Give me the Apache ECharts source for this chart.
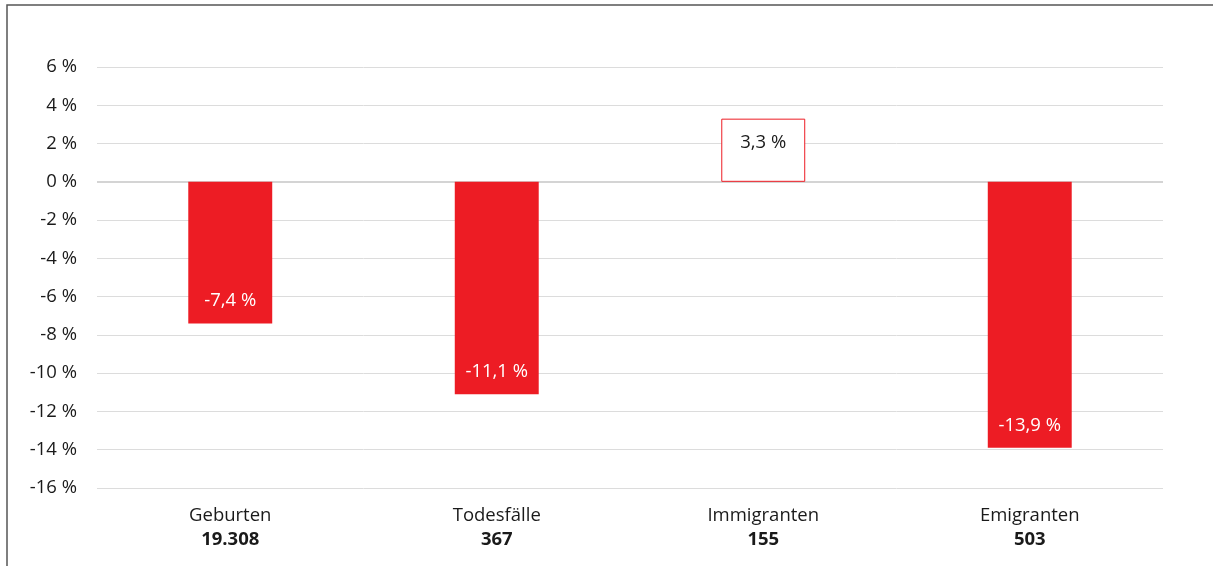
<!DOCTYPE html>
<html><head><meta charset="utf-8">
<script src="https://cdn.jsdelivr.net/npm/echarts@6/dist/echarts.min.js"></script>
<style>html,body{margin:0;padding:0;background:#fff}#c{width:1213px;height:566px}</style>
</head><body><div id="c"></div>
<script>
const categories = ['Geburten', 'Todesfälle', 'Immigranten', 'Emigranten'];
const counts = ['19.308', '367', '155', '503'];
const values = [-7.4, -11.1, 3.3, -13.9];

const RED = '#ED1C24';
const FONT = '"Open Sans", "Noto Sans", sans-serif';
const chart = echarts.init(document.getElementById('c'), null, {renderer: 'canvas'});
const data = values.map(v => ({
  value: v,
  itemStyle: v >= 0 ? {color: '#fff', borderColor: RED, borderWidth: 1} : {color: RED},
  label: v >= 0 ? {position: 'insideTop', distance: 15, color: '#1a1a1a'} : {position: 'insideBottom', distance: 13, color: '#fff'}
}));
chart.setOption({
  animation: false,
  grid: {left: 97, right: 50, top: 67, bottom: 78},
  graphic: [{type: 'rect', shape: {x: 7, y: 5, width: 1230, height: 600}, style: {fill: 'none', stroke: '#555', lineWidth: 1.5}, z: 100}],
  xAxis: {
    type: 'category', data: categories,
    axisLine: {show: false}, axisTick: {show: false},
    axisLabel: {
      margin: 16,
      formatter: (v, i) => '{a|' + v + '}\n{b|' + counts[i] + '}',
      rich: {
        a: {fontFamily: FONT, fontSize: 18.5, color: '#1a1a1a', lineHeight: 24},
        b: {fontFamily: FONT, fontSize: 18.5, fontWeight: 'bold', color: '#1a1a1a', lineHeight: 24}
      }
    }
  },
  yAxis: {
    type: 'value', min: -16, max: 6, interval: 2,
    axisLine: {show: false}, axisTick: {show: false},
    axisLabel: {margin: 20, fontFamily: FONT, fontSize: 18.5, color: '#1a1a1a', formatter: v => v + ' %'},
    splitLine: {lineStyle: {color: '#dcdcdc', width: 1}}
  },
  series: [{
    type: 'bar', data: data, barWidth: '31.5%',
    label: {show: true, fontFamily: FONT, fontSize: 18.5, formatter: p => String(p.value).replace('.', ',') + ' %'},
    markLine: {silent: true, symbol: 'none', label: {show: false}, lineStyle: {color: '#d4d4d4', width: 2, type: 'solid'}, data: [{yAxis: 0}], z: 1},
    z: 2
  }]
});
</script></body></html>
